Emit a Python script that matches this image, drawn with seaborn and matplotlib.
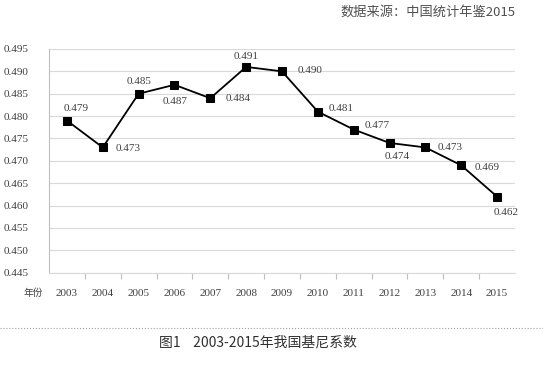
import matplotlib
matplotlib.use("Agg")
import matplotlib.pyplot as plt
import matplotlib.lines as mlines
import numpy as np
import pandas as pd
import seaborn as sns

years = ['2003', '2004', '2005', '2006', '2007', '2008', '2009',
         '2010', '2011', '2012', '2013', '2014', '2015']
gini = [0.479, 0.473, 0.485, 0.487, 0.484, 0.491, 0.490,
        0.481, 0.477, 0.474, 0.473, 0.469, 0.462]
y_ticks = [0.445, 0.450, 0.455, 0.460, 0.465, 0.470, 0.475,
           0.480, 0.485, 0.490, 0.495]

# where each value label sits relative to its point (pixels)
label_offsets = [(9, 12), (25, -1), (0, 12), (1, -17), (28, 0), (0, 10), (28, 1),
                 (23, 3), (23, 4), (8, -14), (25, 0), (26, -2), (9, -16)]

sns.set_theme(style="white")
plt.rcParams['font.family'] = ['Liberation Serif', 'Noto Sans CJK SC', 'DejaVu Sans']

df = pd.DataFrame({'year': years, 'gini': gini})

fig = plt.figure(figsize=(5.43, 3.69), dpi=100)
ax = fig.add_axes([49 / 543, 1 - 272.7 / 369, (515 - 49) / 543, (272.7 - 49) / 369])

sns.lineplot(data=df, x='year', y='gini', ax=ax, color='black', linewidth=1.3,
             marker='s', markersize=6, markeredgecolor='black', markerfacecolor='black')

ax.set_xlim(-0.5, 12.5)
ax.set_ylim(0.445, 0.495)
ax.set_yticks(y_ticks)
ax.set_yticklabels([f'{v:.3f}' for v in y_ticks])
ax.yaxis.grid(True, color='#d9d9d9', linewidth=0.8)
ax.set_axisbelow(True)

ax.set_xticks(range(len(years)))
ax.set_xticklabels(years)
ax.set_xticks(np.arange(0.5, 12.5, 1.0), minor=True)
ax.tick_params(axis='x', which='major', length=0, pad=12, labelsize=8, labelcolor='#404040')
ax.tick_params(axis='x', which='minor', length=4, width=0.8, color='#bfbfbf', direction='out', bottom=True)
ax.tick_params(axis='y', length=0, pad=15, labelsize=8, labelcolor='#404040')
for lab in ax.get_yticklabels():
    lab.set_horizontalalignment('right')

ax.set_xlabel('')
ax.set_ylabel('')
sns.despine(ax=ax, top=True, right=True)
ax.spines['left'].set_color('#bfbfbf')
ax.spines['bottom'].set_color('#d9d9d9')
ax.spines['left'].set_linewidth(0.8)
ax.spines['bottom'].set_linewidth(0.8)

for i, (v, off) in enumerate(zip(gini, label_offsets)):
    ax.annotate(f'{v:.3f}', xy=(i, v), xytext=off, textcoords='offset pixels',
                ha='center', va='center', fontsize=8, color='#404040')

fig.text(33 / 543, 1 - 293 / 369, '年份', ha='center', va='center',
         fontsize=7, color='#404040', family=['Noto Sans CJK SC', 'DejaVu Sans'])
fig.text(515 / 543, 1 - 12 / 369, '数据来源：中国统计年鉴2015', ha='right', va='center',
         fontsize=9.5, color='#505050', family=['Noto Sans CJK SC', 'DejaVu Sans'])
fig.text(258 / 543, 1 - 342 / 369, '图1    2003-2015年我国基尼系数', ha='center', va='center',
         fontsize=10, color='#303030', family=['Noto Sans CJK SC', 'DejaVu Sans'])

fig.add_artist(mlines.Line2D([0, 1], [1 - 328 / 369, 1 - 328 / 369], transform=fig.transFigure,
                             color='#a0a0a0', linestyle=':', linewidth=0.8))

fig.savefig('out.png', dpi=100)
